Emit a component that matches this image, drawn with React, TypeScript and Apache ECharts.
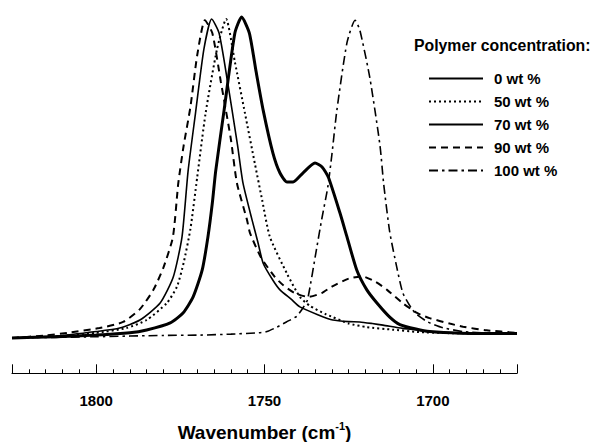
import { useEffect, useRef } from 'react';
import * as echarts from 'echarts';

const seriesNames = ['0 wt %', '50 wt %', '70 wt %', '90 wt %', '100 wt %'];
const legendTitle = 'Polymer concentration:';
const xTickLabels = [1700, 1750, 1800];

const wt0: [number, number][] = [
  [1825, 0], [1812, 0.004], [1800, 0.009], [1790, 0.016], [1785, 0.025], [1778, 0.047],
  [1774.2, 0.078], [1771.2, 0.128], [1768.5, 0.212], [1766.8, 0.315], [1765.5, 0.42],
  [1764.5, 0.52], [1762, 0.71], [1758.8, 0.95], [1756.8, 1.0], [1754.5, 0.95], [1752.5, 0.83],
  [1750.4, 0.71], [1747.5, 0.576], [1745.4, 0.514], [1743.3, 0.486], [1741.5, 0.486],
  [1738.6, 0.514], [1735, 0.545], [1732.9, 0.533], [1731, 0.5], [1727.6, 0.39], [1725.5, 0.315],
  [1722.6, 0.212], [1719.6, 0.15], [1716.6, 0.109], [1712.8, 0.065], [1709.8, 0.042],
  [1705, 0.028], [1700.9, 0.02], [1692, 0.015], [1675, 0.014],
];

const wt50: [number, number][] = [
  [1825, 0], [1812, 0.005], [1800, 0.016], [1791, 0.031], [1785, 0.056], [1779, 0.109],
  [1776, 0.16], [1774, 0.235], [1772, 0.34], [1770, 0.5], [1767.5, 0.7], [1764.1, 0.9],
  [1761.4, 0.994], [1758.8, 0.86], [1755.8, 0.7], [1752.8, 0.54], [1750.7, 0.43],
  [1748.4, 0.315], [1743.3, 0.2], [1739.5, 0.128], [1736.5, 0.1], [1732, 0.075],
  [1729.7, 0.065], [1725, 0.045], [1719.6, 0.034], [1712, 0.026], [1704.7, 0.019],
  [1695, 0.015], [1675, 0.013],
];

const wt70: [number, number][] = [
  [1825, 0], [1812, 0.006], [1800, 0.02], [1793, 0.031], [1787, 0.056], [1781, 0.109],
  [1777.1, 0.19], [1774.5, 0.315], [1772.7, 0.52], [1770.5, 0.7], [1768, 0.9], [1765.7, 0.994],
  [1763.5, 0.95], [1761, 0.8], [1758, 0.6], [1756.4, 0.483], [1753.7, 0.368], [1752, 0.3],
  [1750.4, 0.233], [1747.5, 0.18], [1745.4, 0.15], [1742, 0.12], [1739.5, 0.097], [1734, 0.072],
  [1729.7, 0.056], [1725, 0.051], [1721.7, 0.05], [1718, 0.045], [1714.8, 0.04], [1709, 0.03],
  [1704.7, 0.025], [1701, 0.019], [1692, 0.015], [1675, 0.014],
];

const wt90: [number, number][] = [
  [1825, 0], [1815, 0.008], [1808.6, 0.016], [1799, 0.031], [1792, 0.05], [1787, 0.09],
  [1783, 0.15], [1780, 0.22], [1777.2, 0.315], [1775.6, 0.483], [1774, 0.6], [1772, 0.72],
  [1770, 0.88], [1767.7, 0.99], [1765.5, 0.95], [1763, 0.8], [1760, 0.62], [1758.2, 0.483],
  [1755.2, 0.368], [1754.3, 0.327], [1751, 0.25], [1746.9, 0.19], [1744.5, 0.165], [1741, 0.14],
  [1737, 0.128], [1733, 0.14], [1730, 0.16], [1725, 0.185], [1721, 0.192], [1717, 0.175],
  [1713.6, 0.15], [1709, 0.109], [1704.7, 0.078], [1701, 0.062], [1695, 0.045], [1691, 0.035],
  [1684, 0.024], [1675, 0.016],
];

const wt100: [number, number][] = [
  [1825, 0], [1800, 0.004], [1780, 0.008], [1769, 0.009], [1760, 0.012], [1752.2, 0.016],
  [1749.3, 0.02], [1746.3, 0.034], [1743.5, 0.05], [1740.4, 0.068], [1738.5, 0.095],
  [1737.2, 0.12], [1734.5, 0.28], [1733, 0.37], [1731.2, 0.47], [1730, 0.57], [1728.5, 0.71],
  [1725.5, 0.92], [1723.1, 0.99], [1721.7, 0.96], [1718.7, 0.81], [1715.7, 0.6], [1714.6, 0.48],
  [1712.8, 0.33], [1710.7, 0.22], [1708.9, 0.14], [1706.5, 0.095], [1705, 0.075],
  [1701.5, 0.05], [1697, 0.032], [1691, 0.02], [1683, 0.015], [1675, 0.012],
];

const FONT = '"Liberation Sans", Arial, Helvetica, sans-serif';

export default function App() {
  const ref = useRef<HTMLDivElement>(null);

  useEffect(() => {
    if (!ref.current) return;
    const chart = echarts.init(ref.current, null, { renderer: 'svg' });
    const styles = [
      { width: 3, type: 'solid' as any },
      { width: 2, type: [2, 3] as any },
      { width: 1.6, type: 'solid' as any },
      { width: 2, type: [7, 5] as any },
      { width: 1.6, type: [9, 4, 2.5, 4] as any },
    ];
    const datasets = [wt0, wt50, wt70, wt90, wt100];
    chart.setOption({
      animation: false,
      backgroundColor: '#fff',
      title: {
        text: legendTitle,
        left: 414,
        top: 37,
        padding: 0,
        textStyle: { fontFamily: FONT, fontSize: 15.8, fontWeight: 'bold', color: '#000' },
      },
      legend: {
        orient: 'vertical',
        left: 428,
        top: 71,
        padding: 0,
        itemWidth: 54,
        itemHeight: 14,
        itemGap: 8,
        data: seriesNames,
        itemStyle: { color: 'transparent', borderColor: 'transparent', borderWidth: 0, opacity: 0 },
        textStyle: { fontFamily: FONT, fontSize: 15, fontWeight: 'bold', color: '#000', padding: [0, 0, 0, 6] },
      },
      grid: { left: 12, right: 74, top: 10.6, bottom: 68.7, containLabel: false, outerBoundsMode: 'none' },
      xAxis: {
        type: 'value',
        inverse: true,
        min: 1675,
        max: 1825,
        minInterval: 50,
        maxInterval: 50,
        axisLine: { show: true, onZero: false, lineStyle: { color: '#000', width: 1.2 } },
        axisTick: { show: true, inside: true, length: 9, lineStyle: { color: '#000', width: 1 } },
        minorTick: { show: true, splitNumber: 10, length: 4, lineStyle: { color: '#000', width: 1 } },
        splitLine: { show: false },
        axisLabel: {
          margin: 20,
          fontFamily: FONT,
          fontSize: 15,
          fontWeight: 'bold',
          color: '#000',
          customValues: xTickLabels,
          formatter: (v: number) => String(v),
        },
        name: '{a|Wavenumber (cm}{b|-1}{a|)}',
        nameLocation: 'middle',
        nameGap: 47,
        nameTextStyle: {
          rich: {
            a: { fontFamily: FONT, fontSize: 19, fontWeight: 'bold', color: '#000', lineHeight: 24 },
            b: { fontFamily: FONT, fontSize: 11, fontWeight: 'bold', color: '#000', verticalAlign: 'top', lineHeight: 24, padding: [0, 0, 9, 0] },
          },
        },
      },
      yAxis: { type: 'value', min: -0.11, max: 1.02, show: false },
      series: seriesNames.map((name, i) => ({
        name,
        type: 'line',
        data: datasets[i],
        symbol: 'none',
        smooth: 0.2,
        color: '#000',
        lineStyle: { color: '#000', width: styles[i].width, type: styles[i].type, cap: 'butt' },
      })),
    });
    return () => chart.dispose();
  }, []);

  return (
    <div
      ref={ref}
      style={{ position: 'fixed', left: 0, top: 0, width: 591, height: 442, background: '#fff' }}
    />
  );
}
